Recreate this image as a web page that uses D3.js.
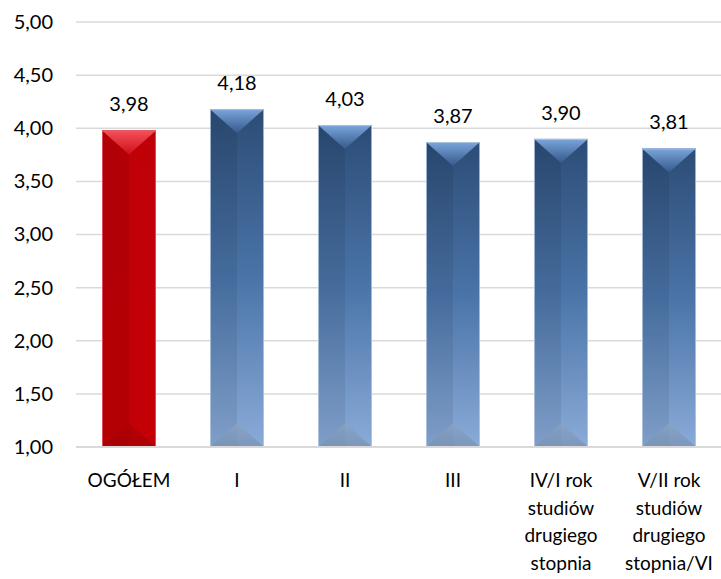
<!DOCTYPE html>
<html><head><meta charset="utf-8">
<script src="https://cdn.jsdelivr.net/npm/d3@7"></script>
<style>
html,body{margin:0;padding:0;background:#fff;}
svg text{font-family:Lato,"Open Sans",sans-serif;fill:#000;}
</style></head>
<body><svg id="c" width="721" height="579"></svg>
<script>
const categories = ["OGÓŁEM", "I", "II", "III", "IV/I rok studiów drugiego stopnia", "V/II rok studiów drugiego stopnia/VI"];
const categoryLines = [["OGÓŁEM"], ["I"], ["II"], ["III"], ["IV/I rok", "studiów", "drugiego", "stopnia"], ["V/II rok", "studiów", "drugiego", "stopnia/VI"]];
const values = [3.98, 4.18, 4.03, 3.87, 3.90, 3.81];
const yTicks = [1.00, 1.50, 2.00, 2.50, 3.00, 3.50, 4.00, 4.50, 5.00];

(function () {
const svg = d3.select("#c");
const W = 721;
const pL = 75, pR = 723, pT = 22, pB = 447;
const fmt = v => v.toFixed(2).replace(".", ",");

const x = d3.scaleBand().domain(categories).range([pL, pR]).paddingInner(0.5).paddingOuter(0.25);
const y = d3.scaleLinear().domain([1, 5]).range([pB, pT]);

const defs = svg.append("defs");
function lin(id, x1, y1, x2, y2, stops) {
  const g = defs.append("linearGradient").attr("id", id)
    .attr("x1", x1).attr("y1", y1).attr("x2", x2).attr("y2", y2);
  stops.forEach(s => g.append("stop").attr("offset", s[0]).attr("stop-color", s[1]));
}
lin("bBody", 0, 0, 0, 1, [[0, "#2c4c76"], [0.5, "#4a74a8"], [1, "#8aabd8"]]);
lin("bTop", 0, 0, 0, 1, [[0, "#7aa5dc"], [1, "#35598a"]]);
lin("bBot", 0, 0, 0, 1, [[0, "#8aa3c4"], [1, "#7790b2"]]);
lin("rBody", 0, 0, 0, 1, [[0, "#c00008"], [1, "#c40006"]]);
lin("rTop", 0, 0, 0, 1, [[0, "#f4505a"], [1, "#d0101a"]]);
lin("rBot", 0, 0, 0, 1, [[0, "#a80004"], [1, "#a00004"]]);

svg.append("g").selectAll("line").data(yTicks.filter(t => t > 1)).join("line")
  .attr("x1", 76).attr("x2", W).attr("y1", d => y(d)).attr("y2", d => y(d))
  .attr("stroke", "#d9d9d9").attr("stroke-width", 1.5);

const yAxis = d3.axisLeft(y).tickValues(yTicks).tickFormat(fmt).tickSize(0).tickPadding(0);
const yg = svg.append("g").attr("transform", "translate(53,0)").call(yAxis);
yg.select(".domain").remove();
yg.selectAll("text").attr("font-size", 20).attr("font-family", "Lato, 'Open Sans', sans-serif").attr("fill", "#000");

const bars = svg.append("g").selectAll("g").data(categories).join("g");
bars.each(function(c, i) {
  const g = d3.select(this);
  const bx = x(c), bw = x.bandwidth();
  const by = y(values[i]), bh = y(1) - y(values[i]);
  const red = i === 0;
  const p = red ? "r" : "b";
  const d = Math.min(24, bh / 2);
  g.append("rect").attr("x", bx).attr("y", by).attr("width", bw).attr("height", bh)
    .attr("fill", `url(#${p}Body)`);
  g.append("rect").attr("x", bx).attr("y", by).attr("width", bw / 2).attr("height", bh)
    .attr("fill", "#000").attr("opacity", red ? 0.08 : 0.07);
  g.append("path").attr("d", `M${bx},${by}L${bx + bw},${by}L${bx + bw / 2},${by + d}Z`)
    .attr("fill", `url(#${p}Top)`);
  g.append("path").attr("d", `M${bx},${by + bh}L${bx + bw},${by + bh}L${bx + bw / 2},${by + bh - d}Z`)
    .attr("fill", `url(#${p}Bot)`).attr("opacity", red ? 0.6 : 0.75);
  g.append("rect").attr("x", bx + 0.5).attr("y", by + 0.5).attr("width", bw - 1).attr("height", bh - 1)
    .attr("fill", "none").attr("stroke", red ? "#e86068" : "#b8cbe6").attr("stroke-width", 1).attr("opacity", 0.8);
  g.append("text").attr("x", bx + bw / 2).attr("y", by - 19).attr("text-anchor", "middle")
    .attr("font-size", 20).text(fmt(values[i]));
});

svg.append("line").attr("x1", 76).attr("x2", W).attr("y1", pB).attr("y2", pB)
  .attr("stroke", "#d9d9d9").attr("stroke-width", 2);

const xl = svg.append("g").selectAll("text").data(categories).join("text")
  .attr("text-anchor", "middle").attr("font-size", 19)
  .attr("x", d => x(d) + x.bandwidth() / 2).attr("y", 487);
xl.each(function(c, i) {
  d3.select(this).selectAll("tspan").data(categoryLines[i]).join("tspan")
    .attr("x", x(c) + x.bandwidth() / 2).attr("dy", (d, j) => j === 0 ? 0 : 27.7).text(d => d);
});
})();
</script></body></html>
